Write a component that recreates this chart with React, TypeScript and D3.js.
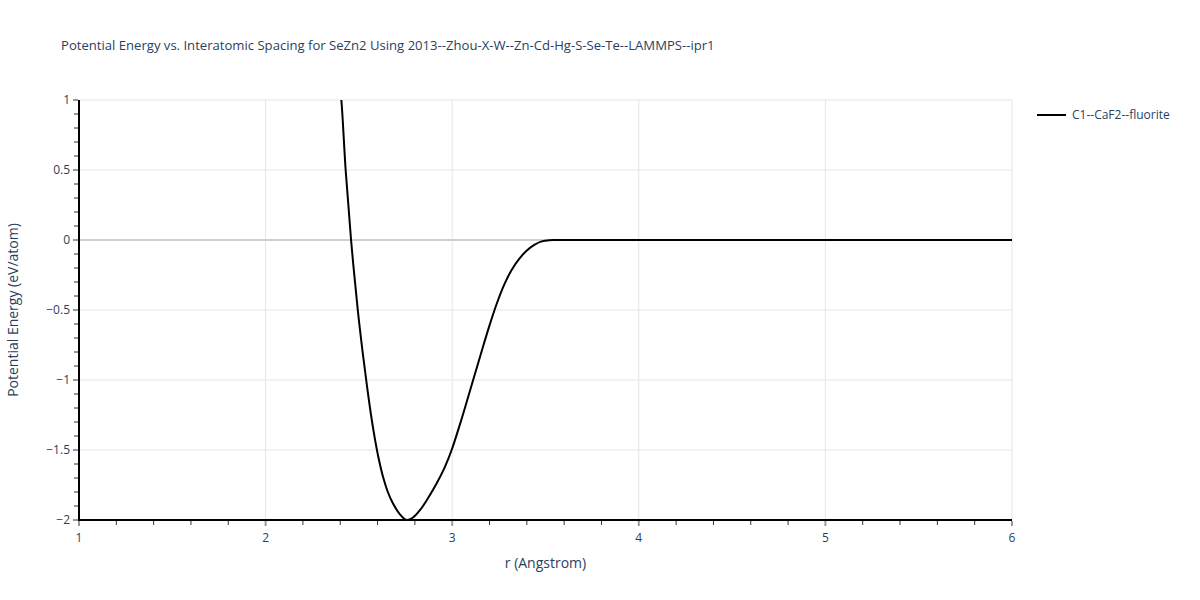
import React from "react";
import * as d3 from "d3";

const title = "Potential Energy vs. Interatomic Spacing for SeZn2 Using 2013--Zhou-X-W--Zn-Cd-Hg-S-Se-Te--LAMMPS--ipr1";
const seriesName = "C1--CaF2--fluorite";
const xLabel = "r (Angstrom)";
const yLabel = "Potential Energy (eV/atom)";

const rValues = [2.38, 2.406, 2.429, 2.458, 2.494, 2.52, 2.545, 2.565, 2.585, 2.605, 2.63, 2.655, 2.68, 2.72, 2.755, 2.79, 2.827, 2.87, 2.917, 2.958, 2.997, 3.05, 3.1, 3.15, 3.2, 3.24, 3.28, 3.32, 3.36, 3.4, 3.44, 3.48, 3.52, 3.56, 3.7, 4.0, 4.5, 5.0, 5.5, 6.0];
const eValues = [1.35, 1.0, 0.5, 0.0, -0.5, -0.8, -1.06, -1.25, -1.415, -1.555, -1.695, -1.8, -1.875, -1.96, -2.0, -1.982, -1.93, -1.845, -1.738, -1.63, -1.5, -1.28, -1.055, -0.83, -0.61, -0.45, -0.315, -0.21, -0.133, -0.075, -0.035, -0.01, -0.001, 0, 0, 0, 0, 0, 0, 0];

const xTicks = [1, 2, 3, 4, 5, 6];
const yTicks = [1, 0.5, 0, -0.5, -1, -1.5, -2];

const W = 1200, H = 600;
const M = { left: 79, right: 1012, top: 100, bottom: 520 };
const FONT = '"Open Sans", verdana, arial, sans-serif';
const TXT = "#2a3f5f";

export default function App() {
  const x = d3.scaleLinear().domain([1, 6]).range([M.left, M.right]);
  const y = d3.scaleLinear().domain([-2, 1]).range([M.bottom, M.top]);
  const line = d3.line<number>().x((_, i) => x(rValues[i])).y((d) => y(d)).curve(d3.curveCatmullRom.alpha(0.5));
  const xMinor = d3.range(1, 6.0001, 0.2).filter((v) => Math.abs(v - Math.round(v)) > 1e-6);
  const yMinor = d3.range(-2, 1.0001, 0.1).filter((v) => Math.abs(v * 2 - Math.round(v * 2)) > 1e-6);
  const fmt = (v: number) => (v < 0 ? "\u2212" + Math.abs(v) : String(v));

  return (
    <svg width={W} height={H} style={{ position: "absolute", left: 0, top: 0, background: "#fff" }} fontFamily={FONT}>
      <defs>
        <clipPath id="plotclip">
          <rect x={M.left} y={M.top} width={M.right - M.left} height={M.bottom - M.top + 2} />
        </clipPath>
      </defs>
      <text x={61} y={50} fontSize={13.1} fill={TXT}>{title}</text>
      {xTicks.map((t) => (
        <line key={"gx" + t} x1={x(t)} x2={x(t)} y1={M.top} y2={M.bottom} stroke="#e5e5e5" strokeWidth={1} />
      ))}
      {yTicks.map((t) => (
        <line key={"gy" + t} x1={M.left} x2={M.right} y1={y(t)} y2={y(t)} stroke={t === 0 ? "#cfcfcf" : "#e5e5e5"} strokeWidth={t === 0 ? 2 : 1} />
      ))}
      <path d={line(eValues) || ""} fill="none" stroke="#000" strokeWidth={2} clipPath="url(#plotclip)" />
      <line x1={M.left} x2={M.left} y1={M.top} y2={M.bottom + 1} stroke="#000" strokeWidth={2} />
      <line x1={M.left - 1} x2={M.right} y1={M.bottom} y2={M.bottom} stroke="#000" strokeWidth={2} />
      {xTicks.map((t) => (
        <g key={"xt" + t}>
          <line x1={x(t)} x2={x(t)} y1={M.bottom + 1} y2={M.bottom + 6} stroke="#999" strokeWidth={2} />
          <text x={x(t)} y={M.bottom + 22} textAnchor="middle" fontSize={12} fill={TXT}>{t}</text>
        </g>
      ))}
      {xMinor.map((t) => (
        <line key={"xm" + t} x1={x(t)} x2={x(t)} y1={M.bottom + 1} y2={M.bottom + 5} stroke="#333" strokeWidth={1} />
      ))}
      {yTicks.map((t) => (
        <g key={"yt" + t}>
          <line x1={M.left - 6} x2={M.left - 1} y1={y(t)} y2={y(t)} stroke="#999" strokeWidth={2} />
          <text x={M.left - 9} y={y(t) + 4} textAnchor="end" fontSize={12} fill={TXT}>{fmt(t)}</text>
        </g>
      ))}
      {yMinor.map((t) => (
        <line key={"ym" + t.toFixed(2)} x1={M.left - 5} x2={M.left - 1} y1={y(t)} y2={y(t)} stroke="#333" strokeWidth={1} />
      ))}
      <text x={(M.left + M.right) / 2} y={568} textAnchor="middle" fontSize={14} fill={TXT}>{xLabel}</text>
      <text transform={`translate(18, ${(M.top + M.bottom) / 2}) rotate(-90)`} textAnchor="middle" fontSize={14} fill={TXT}>{yLabel}</text>
      <line x1={1037} x2={1066} y1={115} y2={115} stroke="#000" strokeWidth={2} />
      <text x={1072} y={119} fontSize={12} fill={TXT}>{seriesName}</text>
    </svg>
  );
}
